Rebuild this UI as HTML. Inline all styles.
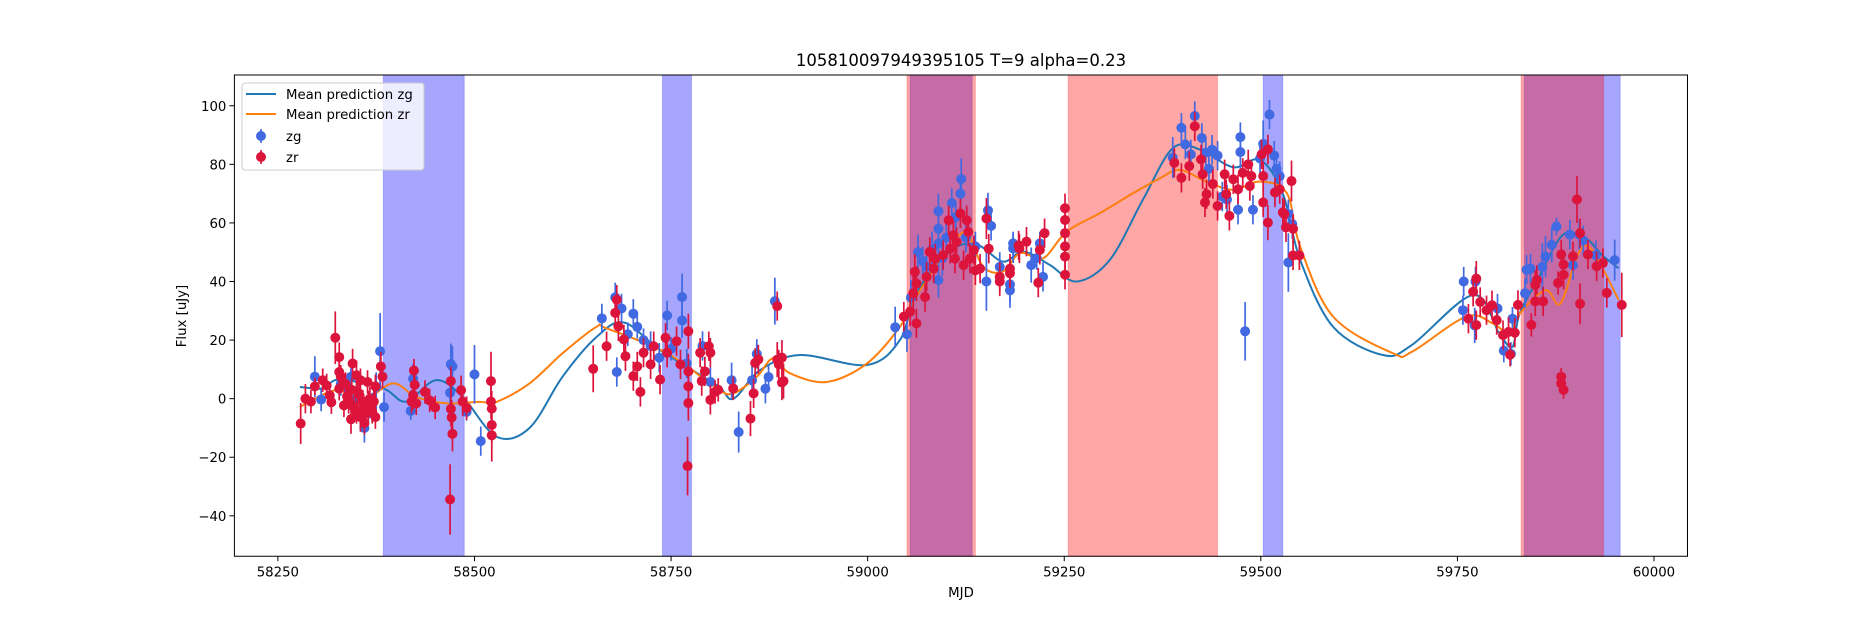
<!DOCTYPE html>
<html><head><meta charset="utf-8"><style>
html,body{margin:0;padding:0;background:#fff;}
svg text{font-family:"DejaVu Sans","Liberation Sans",sans-serif;}
</style></head><body>
<svg id="chart" width="1875" height="625" viewBox="0 0 1875 625" xmlns="http://www.w3.org/2000/svg">
<rect width="1875" height="625" fill="#fff"/>
<g id="spans"></g>
<g id="curves"></g>
<g id="points"></g>
<rect x="234.4" y="75" width="1453.1" height="481.25" fill="none" stroke="#000" stroke-width="1"/>
<g id="axes"></g>
<text x="961" y="66" font-size="16.5" text-anchor="middle">105810097949395105 T=9 alpha=0.23</text>
<text x="961" y="597" font-size="13.3" text-anchor="middle">MJD</text>
<text x="186" y="316" font-size="13.3" text-anchor="middle" transform="rotate(-90 186 316)">Flux [uJy]</text>
<g>
<rect x="242" y="83" width="182" height="87" rx="3" fill="#fff" fill-opacity="0.8" stroke="#ccc"/>
<line x1="246" y1="94" x2="276" y2="94" stroke="#1f77b4" stroke-width="2"/>
<text x="286" y="99" font-size="13.3">Mean prediction zg</text>
<line x1="246" y1="114" x2="276" y2="114" stroke="#ff7f0e" stroke-width="2"/>
<text x="286" y="119" font-size="13.3">Mean prediction zr</text>
<line x1="261" y1="129" x2="261" y2="143" stroke="#4169e1" stroke-width="1.7"/>
<circle cx="261" cy="136" r="5" fill="#4169e1"/>
<text x="286" y="141" font-size="13.3">zg</text>
<line x1="261" y1="150" x2="261" y2="164" stroke="#dc143c" stroke-width="1.7"/>
<circle cx="261" cy="157" r="5" fill="#dc143c"/>
<text x="286" y="162" font-size="13.3">zr</text>
</g>
</svg>
<script>
const xTicks = [58250,58500,58750,59000,59250,59500,59750,60000];
const yTicks = [-40,-20,0,20,40,60,80,100];
const blueSpans = [[58384,58487],[58739,58776],[59054,59133],[59503,59528],[59835,59957]];
const redSpans = [[59050,59137],[59255,59445],[59831,59936]];
const zgCurveX = [58278,58307,58328,58384,58413,58451,58485,58528,58570,58612,58655,58690,58736,58808,58829,58863,58914,58999,59041,59062,59105,59139,59172,59198,59232,59266,59308,59350,59388,59423,59465,59499,59528,59550,59592,59655,59692,59770,59803,59820,59829,59854,59884,59913,59934,59955];
const zgCurveY = [4,3.5,6.5,3.5,-1,6.3,0.6,-13,-10,7.5,21,26,16.6,4.6,0,9.7,14.9,11.5,20,36,50.5,52.5,46.8,50.2,45.6,40,47.4,67.9,85.5,85,79,81.5,70,47.4,24.5,14.9,18.3,35.4,22.4,17.7,29,41.6,55.9,54.8,49,44.5];
const zrCurveX = [58278,58324,58358,58396,58426,58464,58506,58528,58570,58612,58655,58668,58745,58808,58829,58859,58880,58901,58948,58999,59041,59062,59105,59126,59147,59172,59194,59223,59253,59295,59338,59372,59397,59431,59465,59499,59533,59550,59592,59668,59692,59761,59795,59816,59829,59862,59881,59904,59921,59955];
const zrCurveY = [-2.8,2.9,-0.6,5.2,0.6,-1.6,-1.1,-1.1,5.2,15.5,24.5,24,15.5,3.6,1.8,7.5,13.8,8.7,5.7,12,24.5,35,51.9,56.5,45,43.4,49.7,47.9,57,63.3,70.2,75.3,78.1,74.1,71.3,74.1,70.2,51.9,28,15.5,16,28,25.7,22.3,29,37,32.5,49.6,50.8,33.7];
const zgData = [[58297,7.5,7],[58305,-0.3,4],[58343,7.5,5],[58360,-10,5],[58380,16.2,13],[58385,-2.9,5],[58422,6.8,5],[58419,-4.2,3],[58470,11.8,7],[58472,11,7],[58469,2,4],[58500,8.3,10],[58490,-4.5,3],[58508,-14.5,5],[58330,5,4],[58350,0,5],[58365,-5,4],[58370,-3,5],[58340,3,4],[58355,-6,4],[58375,4,5],
[58662,27.4,5],[58679,34.6,5],[58687,30.8,5],[58702,29,5],[58707,24.5,4],[58681,9.1,5],[58745,28.4,5],[58764,34.7,8],[58764,26.7,6],[58724,18,5],[58800,5.7,5],[58827,6.3,6],[58836,-11.4,7],[58859,15.3,5],[58853,6.3,6],[58874,7.4,4],[58870,3.4,5],[58882,33.3,8],[58695,22,4],[58715,20,4],[58735,14,5],[58750,17,4],[58770,12,5],[58790,18,5],
[59035,24.4,7],[59050,22,6],[59064,50,6],[59090,64,6],[59119,75,7],[59118,70,6],[59107,66.8,5],[59090,53,6],[59082,51,6],[59090,40.5,6],[59153,64.3,6],[59157,59,5],[59151,40,10],[59185,51.3,5],[59181,37,6],[59137,52,5],[59090,58,6],[59055,34.5,6],[59070,47,5],[59100,55,5],[59075,45,5],[59095,48,6],[59112,62,5],[59125,55,5],
[59185,53,4],[59168,45,5],[59181,39,6],[59208,45.6,6],[59219,53,4],[59223,41.6,5],[59215,48,4],
[59388,82.3,7],[59399,92.5,5],[59416,96.5,5],[59404,86.8,5],[59411,83.4,5],[59425,89,5],[59430,84,5],[59438,85,5],[59445,83,5],[59474,89.3,5],[59474,84.2,6],[59480,23,10],[59490,64.5,5],[59471,64.5,5],[59503,87,8],[59511,97,5],[59517,83,5],[59520,78.5,5],[59524,76,5],[59535,63,5],[59540,59.6,5],[59535,46.5,10],[59499,82,5],[59434,78.5,5],[59457,68,5],[59451,69,5],
[59758,40,5],[59773,40,5],[59757,30.2,5],[59801,30.8,5],[59772,25,6],[59809,16.4,4],[59818,15.3,4],[59820,27.3,4],[59836,36,5],[59838,44,5],[59843,44.4,5],[59862,48.5,7],[59870,52.5,6],[59876,58.8,3],[59893,56,5],[59897,45.6,5],[59905,56,5],[59910,54,5],[59926,49,5],[59950,47.3,7],[59858,45,8]];
const zrData = [[58279,-8.5,7],[58285,0,5],[58292,-1,4],[58297,4.2,3],[58307,6.3,4],[58312,4.5,4],[58316,1.1,4],[58318,-1.2,4],[58323,20.8,9],[58328,14.2,5],[58328,9.1,5],[58330,7.5,4],[58328,3.4,4],[58345,12,5],[58350,8,5],[58355,6.3,4],[58334,-2.3,4],[58340,-1.1,4],[58350,-4.5,4],[58355,-6.3,5],[58361,-3.4,4],[58365,-2.3,5],[58370,-4.5,4],[58374,-6.3,4],[58367,0,4],[58364,5.7,4],[58381,11,5],[58383,7.5,4],[58374,4.2,4],[58338,0.8,4],[58343,-7,5],[58360,-8.3,4],[58354,1,4],[58347,-3,4],[58358,-1,4],[58352,2,4],[58362,-5,4],[58344,3,4],[58372,-1,4],[58336,5,4],
[58423,9.6,4],[58424,4.7,5],[58420,-1,4],[58426,-1.6,4],[58422,1.2,5],[58437,2.3,4],[58443,-0.6,4],[58450,-3,4],[58470,6,5],[58470,-3.5,6],[58471,-6.4,6],[58472,-12,6],[58469,-34.4,12],[58483,2.9,5],[58485,-1,5],[58490,-3.2,4],[58521,6,10],[58521,-1,6],[58522,-3.4,6],[58522,-9,6],[58522,-12.5,9],
[58651,10.2,8],[58681,33.8,5],[58679,29.3,5],[58668,17.9,5],[58683,24.7,5],[58690,20.2,5],[58692,14.5,5],[58702,7.7,5],[58707,11,5],[58711,2.3,5],[58715,15.7,5],[58724,11.7,5],[58728,17.9,5],[58736,6.5,5],[58743,20.8,5],[58745,15.7,5],[58757,19.6,5],[58762,11.7,5],[58772,23,6],[58772,9.3,6],[58772,4.2,6],[58772,-1.5,6],[58771,-23,10],[58787,15.7,5],[58789,6,5],[58793,9.3,5],[58798,17.9,5],[58800,15.7,5],[58800,-0.4,5],[58806,2.3,4],[58810,3,4],[58829,3.5,4],[58851,-6.8,6],[58855,1.8,5],[58857,12.2,5],[58861,13.4,5],[58885,31.6,5],[58885,13.3,6],[58887,11.7,5],[58891,14,6],[58891,5.5,6],[58893,6,6],
[59046,28,5],[59054,29.7,5],[59062,25.7,5],[59058,36,6],[59060,43.3,6],[59062,39.3,6],[59073,34.7,5],[59075,41.6,5],[59079,50.1,5],[59084,44.4,5],[59086,47.8,5],[59096,49,5],[59103,60.9,5],[59109,55.8,5],[59111,47.8,5],[59118,63.2,5],[59122,45.6,5],[59126,60.9,5],[59128,56.9,5],[59130,47.8,5],[59135,50.7,5],[59137,43.8,5],[59143,44.4,5],[59151,61.5,7],[59154,51.2,5],[59168,41.6,5],[59181,44.4,5],[59192,52.3,5],[59113,53.5,5],[59105,51.2,5],
[59168,40,5],[59181,42.8,5],[59193,51.3,5],[59202,53.6,5],[59219,50.8,5],[59217,39.6,5],[59225,56.5,5],[59251,65,5],[59251,61,5],[59251,56.5,5],[59251,52,5],[59251,48.5,5],[59251,42.3,5],
[59390,80.5,5],[59399,75.4,5],[59416,93,5],[59409,79.4,5],[59424,81.7,5],[59426,76.6,5],[59431,69.8,5],[59429,67,5],[59439,73.3,5],[59445,65.8,5],[59454,76.6,5],[59456,69.8,5],[59460,62.4,5],[59465,74.9,5],[59471,71.5,5],[59477,77.1,5],[59484,80,5],[59488,76,5],[59486,72.6,5],[59501,83.4,5],[59509,85.1,5],[59503,76,5],[59509,60.1,6],[59518,70.4,5],[59524,71.5,5],[59528,63.6,5],[59532,58.5,5],[59539,74.3,7],[59541,58,5],[59541,48.9,5],[59549,48.9,5],[59530,63,5],[59503,67,5],
[59774,41,6],[59770,36.5,5],[59779,33,5],[59764,27.3,5],[59787,30.2,5],[59774,25.1,5],[59794,31.9,5],[59800,26.8,5],[59808,21.7,5],[59815,22.8,5],[59823,22.5,5],[59817,15,4],[59827,32,5],[59844,25.2,4],[59849,38.8,5],[59851,40.5,5],[59849,33.2,5],[59859,33.2,5],[59878,39.5,4],[59882,49.2,5],[59885,45.8,5],[59885,42.3,5],[59882,7.5,3],[59885,3,3],[59882,5.2,3],[59897,48.6,5],[59902,68,8],[59906,56.5,5],[59906,32.4,7],[59916,49.2,5],[59927,45.2,5],[59935,46.3,5],[59940,36.1,5],[59959,32,11]];

const X0=58194.7, X1=60042.6, Y0=-53.8, Y1=110.5;
const L=234.4, R=1687.5, T=75, B=556.25;
function xs(m){return L+(m-X0)/(X1-X0)*(R-L);}
function ys(f){return T+(Y1-f)/(Y1-Y0)*(B-T);}
const NS="http://www.w3.org/2000/svg";
function mk(tag,attrs,parent){const e=document.createElementNS(NS,tag);for(const k in attrs)e.setAttribute(k,attrs[k]);parent.appendChild(e);return e;}

const spansG=document.getElementById('spans');
blueSpans.forEach(s=>{const r=mk('rect',{x:xs(s[0]),y:T,width:xs(s[1])-xs(s[0]),height:B-T,fill:'#0000ff','fill-opacity':0.35,stroke:'#0000ff','stroke-opacity':0.2},spansG);

});
redSpans.forEach(s=>{const r=mk('rect',{x:xs(s[0]),y:T,width:xs(s[1])-xs(s[0]),height:B-T,fill:'#ff0000','fill-opacity':0.35,stroke:'#ff0000','stroke-opacity':0.2},spansG);

});

const curvesG=document.getElementById('curves');
function smoothPath(xa,ya){const p=xa.map((m,i)=>[xs(m),ys(ya[i])]);let d='M'+p[0][0]+','+p[0][1];
for(let i=0;i<p.length-1;i++){const p0=p[i-1]||p[i],p1=p[i],p2=p[i+1],p3=p[i+2]||p2;
const c1=[p1[0]+(p2[0]-p0[0])/6,p1[1]+(p2[1]-p0[1])/6],c2=[p2[0]-(p3[0]-p1[0])/6,p2[1]-(p3[1]-p1[1])/6];
d+=' C'+c1[0]+','+c1[1]+' '+c2[0]+','+c2[1]+' '+p2[0]+','+p2[1];}return d;}
const cz=mk('path',{d:smoothPath(zgCurveX,zgCurveY),fill:'none',stroke:'#1f77b4','stroke-width':2},curvesG);


const cr=mk('path',{d:smoothPath(zrCurveX,zrCurveY),fill:'none',stroke:'#ff7f0e','stroke-width':2},curvesG);



const ptsG=document.getElementById('points');
function drawPts(data,color,name){data.forEach(d=>{const g=mk('g',{},ptsG);


mk('line',{x1:xs(d[0]),x2:xs(d[0]),y1:ys(d[1]-d[2]),y2:ys(d[1]+d[2]),stroke:color,'stroke-width':1.7},g);
mk('circle',{cx:xs(d[0]),cy:ys(d[1]),r:5,fill:color},g);});}
drawPts(zgData,'#4169e1','zg-point');
drawPts(zrData,'#dc143c','zr-point');

const axG=document.getElementById('axes');
xTicks.forEach(v=>{const x=xs(v);mk('line',{x1:x,x2:x,y1:B,y2:B+5,stroke:'#000'},axG);
const t=mk('text',{x:x,y:B+20,'font-size':13.3,'text-anchor':'middle'},axG);t.textContent=v;

});
yTicks.forEach(v=>{const y=ys(v);mk('line',{x1:L-5,x2:L,y1:y,y2:y,stroke:'#000'},axG);
const t=mk('text',{x:L-8,y:y+5,'font-size':13.3,'text-anchor':'end'},axG);t.textContent=(v<0?'\u2212'+(-v):v);

});
</script>
</body></html>
